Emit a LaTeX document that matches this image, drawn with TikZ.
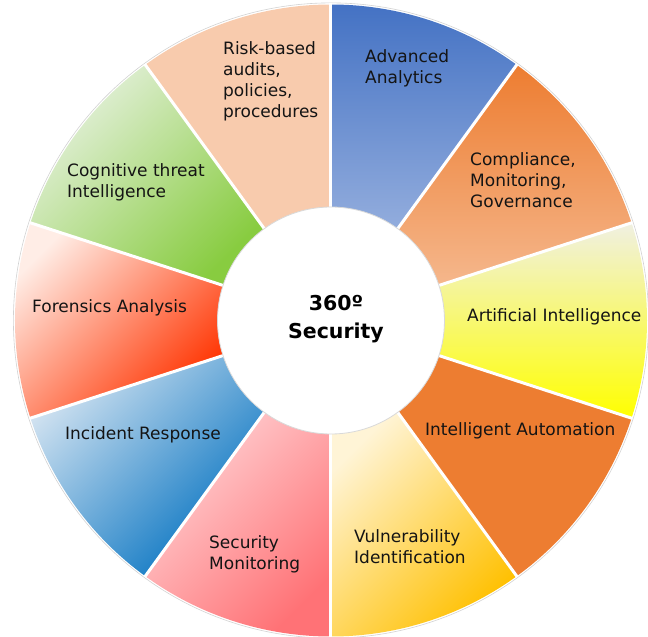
\documentclass[tikz,border=0pt]{standalone}
\usepackage{fontspec}
\setmainfont{DejaVu Sans}
\usepackage{xcolor}
\usepackage{tikz}
\usetikzlibrary{positioning}

\definecolor{analyticsdark}{HTML}{4472C4}
\definecolor{analyticslight}{HTML}{93ADDD}
\definecolor{compliancedark}{HTML}{ED7D31}
\definecolor{compliancelight}{HTML}{F5B78C}
\definecolor{aipale}{HTML}{F0F0E2}
\definecolor{aiyellow}{HTML}{FFFF00}
\definecolor{automationorange}{HTML}{ED7D31}
\definecolor{vulnpale}{HTML}{FFF4D6}
\definecolor{vulngold}{HTML}{FFC000}
\definecolor{secmonpale}{HTML}{FFD4D6}
\definecolor{secmonred}{HTML}{FF7276}
\definecolor{incidentpale}{HTML}{CFE1F0}
\definecolor{incidentblue}{HTML}{0070C0}
\definecolor{forensicspale}{HTML}{FFEDE6}
\definecolor{forensicsred}{HTML}{FF3300}
\definecolor{cognitivepale}{HTML}{E6F1DF}
\definecolor{cognitivegreen}{HTML}{88CC40}
\definecolor{riskpeach}{HTML}{F8CBAD}

\begin{document}
\begin{tikzpicture}[
        x=1pt, y=1pt,
        seglabel/.style={anchor=west, align=left, inner sep=0pt,
            font=\fontsize{17}{21}\selectfont, text=black!92},
        gapline/.style={draw=white, line width=3pt},
        hub/.style={circle, fill=white, draw=gray!30, line width=0.8pt,
            minimum size=227pt, inner sep=0pt},
        hubtext/.style={align=center, inner sep=0pt,
            font=\bfseries\fontsize{20.5}{28}\selectfont},
    ]
    \newcommand{\wheelpart}[3]{%
        \shade[#3] (#1:112) -- (#1:316) arc[start angle=#1, end angle=#2, radius=316]
            -- (#2:112) arc[start angle=#2, end angle=#1, radius=112] -- cycle;}
    \useasboundingbox (-331,-316.5) rectangle (317,320.5);

        % Ring
        \draw[gray!35, line width=0.6pt] (0,0) circle[radius=317.6];
        \wheelpart{54}{90}{top color=analyticsdark, bottom color=analyticslight}
        \wheelpart{18}{54}{top color=compliancedark, bottom color=compliancelight}
        \wheelpart{-18}{18}{top color=aipale, middle color=aiyellow!85!aipale, bottom color=aiyellow}
        \wheelpart{-54}{-18}{top color=automationorange, bottom color=automationorange}
        \wheelpart{-90}{-54}{top color=vulnpale, middle color=vulngold!55!vulnpale, bottom color=vulngold, shading angle=45}
        \wheelpart{-126}{-90}{top color=secmonpale, middle color=secmonred!65!secmonpale, bottom color=secmonred, shading angle=45}
        \wheelpart{-162}{-126}{top color=incidentpale, middle color=incidentblue!55!incidentpale, bottom color=incidentblue, shading angle=45}
        \wheelpart{162}{198}{top color=forensicspale, middle color=forensicsred!70!forensicspale, bottom color=forensicsred, shading angle=45}
        \wheelpart{126}{162}{top color=cognitivepale, middle color=cognitivegreen!65!cognitivepale, bottom color=cognitivegreen, shading angle=45}
        \wheelpart{90}{126}{top color=riskpeach, bottom color=riskpeach}

        % Gaps
        \foreach \a in {18,54,...,342}
            \draw[gapline] (0,0) -- (\a:317);

        % Hub
        \node[hub] (hub) at (0,0) {};
        \node[hubtext] (title) at (5,1) {360º\\Security};

        % Labels
        \node[seglabel] (analytics) at (34,252.5) {Advanced\\Analytics};
        \node[seglabel] (compliance) at (139,140.5) {Compliance,\\Monitoring,\\Governance};
        \node[seglabel] (ai) at (136,3.5) {Artificial Intelligence};
        \node[seglabel] (automation) at (94,-110.5) {Intelligent Automation};
        \node[seglabel] (vulnerability) at (23,-226.5) {Vulnerability\\Identification};
        \node[seglabel] (secmonitoring) at (-122,-233.5) {Security\\Monitoring};
        \node[seglabel] (incident) at (-266,-114.5) {Incident Response};
        \node[seglabel] (forensics) at (-299,12.5) {Forensics Analysis};
        \node[seglabel] (cognitive) at (-264,138) {Cognitive threat\\Intelligence};
        \node[seglabel] (risk) at (-108,239.5) {Risk-based\\audits,\\policies,\\procedures};

    \end{tikzpicture}
\end{document}
